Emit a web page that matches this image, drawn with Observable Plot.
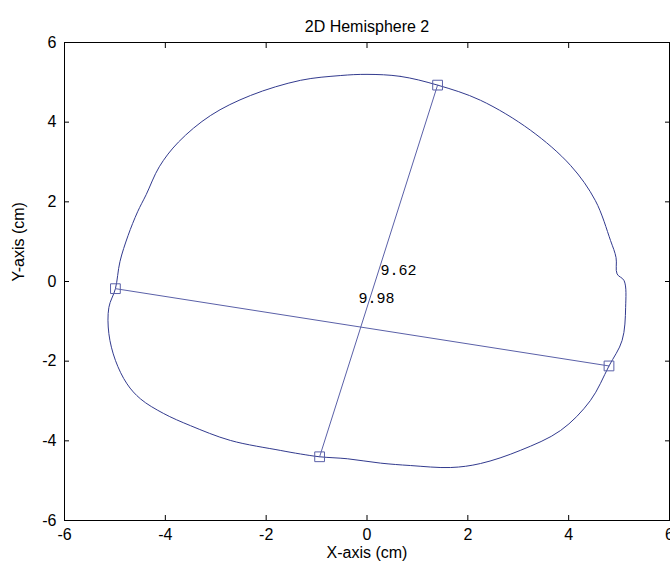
<!DOCTYPE html>
<html>
<head>
<meta charset="utf-8">
<script src="https://cdn.jsdelivr.net/npm/d3@7"></script>
<script src="https://cdn.jsdelivr.net/npm/@observablehq/plot@0.6"></script>
<style>
  html, body { margin: 0; padding: 0; background: #fff; }
  svg { display: block; }
</style>
</head>
<body>
<div id="chart"></div>
<script>
// Traced outline of the hemisphere section (cm), clockwise from the top
const outlineX = [0.00, 0.66, 1.40, 2.25, 3.24, 4.04, 4.53, 4.83, 4.94, 4.96, 5.10, 5.13, 5.06, 4.80,
  4.43, 3.84, 3.04, 2.25, 1.66, 0.86, 0.27, -0.39, -0.94, -1.32, -1.72, -2.71, -3.50, -4.04,
  -4.49, -4.76, -4.99, -5.12, -5.12, -4.99, -4.90, -4.74, -4.55, -4.38, -4.12, -3.74, -3.10,
  -2.31, -1.32, -0.53];
const outlineY = [5.20, 5.15, 4.93, 4.55, 3.80, 2.91, 2.03, 1.03, 0.60, 0.19, 0.02, -0.65, -1.48, -2.12,
  -2.99, -3.74, -4.24, -4.57, -4.67, -4.62, -4.56, -4.45, -4.40, -4.33, -4.24, -3.99, -3.62, -3.31,
  -2.95, -2.57, -1.98, -1.31, -0.65, -0.18, 0.50, 1.15, 1.75, 2.18, 2.88, 3.50, 4.17,
  4.67, 5.05, 5.17];

// Diameter endpoints (cm)
const diameterNames = ["vertical", "vertical", "horizontal", "horizontal"];
const endpointX = [1.40, -0.94, -4.99, 4.80];
const endpointY = [4.93, -4.40, -0.18, -2.12];

// Diameter length labels
const lengthLabels = ["9.62", "9.98"];
const lengthLabelX = [0.27, -0.17];
const lengthLabelY = [0.28, -0.43];

const axisTicks = [-6, -4, -2, 0, 2, 4, 6];
const titleText = "2D Hemisphere 2";
const xLabel = "X-axis (cm)";
const yLabel = "Y-axis (cm)";

const outline = outlineX.map((x, i) => ({x, y: outlineY[i]}));
const endpoints = endpointX.map((x, i) => ({x, y: endpointY[i], name: diameterNames[i]}));
const labels = lengthLabels.map((text, i) => ({text, x: lengthLabelX[i], y: lengthLabelY[i]}));

const lineColor = "#323a8e";
const markerColor = "#5a60a8";
const font = "'Liberation Sans', Arial, Helvetica, sans-serif";
const fontSize = 16;

const chart = Plot.plot({
  width: 670,
  height: 571,
  marginLeft: 64,
  marginRight: 1,
  marginTop: 42,
  marginBottom: 51,
  style: {fontFamily: font, fontSize: `${fontSize}px`, color: "#000", background: "#fff"},
  x: {domain: [-6, 6]},
  y: {domain: [-6, 6]},
  marks: [
    // outline of the section
    Plot.line(outline, {x: "x", y: "y", stroke: lineColor, strokeWidth: 1, curve: "catmull-rom-closed"}),
    // the two diameters
    Plot.line(endpoints, {x: "x", y: "y", z: "name", stroke: markerColor, strokeWidth: 1}),
    Plot.dot(endpoints, {x: "x", y: "y", symbol: "square", r: 5.5, stroke: markerColor, fill: "none", strokeWidth: 1}),
    Plot.text(labels, {x: "x", y: "y", text: "text", textAnchor: "start",
      fontFamily: "'Liberation Mono', 'DejaVu Sans Mono', monospace", fontSize: 15, fill: "#000"}),
    // box with inward ticks on all four sides
    Plot.frame({stroke: "#000", strokeWidth: 1}),
    Plot.axisX({ticks: axisTicks, anchor: "bottom", tickSize: -5, tickFormat: () => "", label: null}),
    Plot.axisX({ticks: axisTicks, anchor: "top", tickSize: -5, tickFormat: () => "", label: null}),
    Plot.axisY({ticks: axisTicks, anchor: "left", tickSize: -5, tickFormat: () => "", label: null}),
    Plot.axisY({ticks: axisTicks, anchor: "right", tickSize: -5, tickFormat: () => "", label: null}),
    // tick labels
    Plot.axisX({ticks: axisTicks, anchor: "bottom", tickSize: 0, tickPadding: 8, label: null,
      tickFormat: (d) => String(d), fontSize}),
    Plot.axisY({ticks: axisTicks, anchor: "left", tickSize: 0, tickPadding: 8, label: null,
      tickFormat: (d) => String(d), fontSize}),
    // title and axis titles
    Plot.text([titleText], {frameAnchor: "top", dy: -22, fontSize, fill: "#000"}),
    Plot.text([xLabel], {frameAnchor: "bottom", dy: 37, fontSize, fill: "#000"}),
    Plot.text([yLabel], {frameAnchor: "left", dx: -46, rotate: -90, fontSize, fill: "#000"})
  ]
});

document.getElementById("chart").appendChild(chart);
</script>
</body>
</html>
